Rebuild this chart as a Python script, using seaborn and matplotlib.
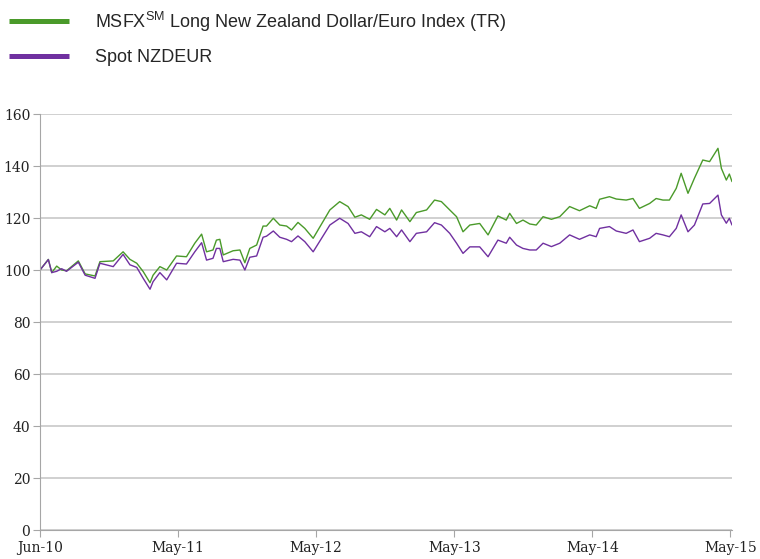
import pandas as pd
import numpy as np
import matplotlib
matplotlib.use("Agg")
import matplotlib.pyplot as plt
import seaborn as sns

# sampled readings of the two index series (base 100 at Jun-10)
dates = [
    "2010-06-01", "2010-06-23", "2010-07-02", "2010-07-15", "2010-07-28", "2010-08-10",
    "2010-09-10", "2010-09-28", "2010-10-24", "2010-11-06", "2010-12-11", "2011-01-06",
    "2011-01-24", "2011-02-11", "2011-02-28", "2011-03-18", "2011-03-26", "2011-04-13",
    "2011-05-01", "2011-05-27", "2011-06-22", "2011-07-14", "2011-08-01", "2011-08-14",
    "2011-08-31", "2011-09-09", "2011-09-18", "2011-09-27", "2011-10-23", "2011-11-10",
    "2011-11-23", "2011-12-06", "2011-12-24", "2012-01-10", "2012-01-19", "2012-02-06",
    "2012-02-23", "2012-03-12", "2012-03-25", "2012-04-11", "2012-04-29", "2012-05-21",
    "2012-07-04", "2012-07-30", "2012-08-21", "2012-09-08", "2012-09-25", "2012-10-17",
    "2012-11-04", "2012-11-26", "2012-12-09", "2012-12-27", "2013-01-09", "2013-01-31",
    "2013-02-17", "2013-03-16", "2013-04-06", "2013-04-24", "2013-05-16", "2013-06-03",
    "2013-06-20", "2013-07-08", "2013-08-03", "2013-08-25", "2013-09-20", "2013-10-12",
    "2013-10-21", "2013-11-08", "2013-11-25", "2013-12-13", "2013-12-30", "2014-01-17",
    "2014-02-08", "2014-03-02", "2014-03-28", "2014-04-23", "2014-05-20", "2014-06-06",
    "2014-06-15", "2014-07-11", "2014-07-29", "2014-08-24", "2014-09-11", "2014-09-28",
    "2014-10-25", "2014-11-11", "2014-11-29", "2014-12-16", "2015-01-03", "2015-01-16",
    "2015-02-03", "2015-02-20", "2015-03-14", "2015-04-01", "2015-04-23", "2015-05-02",
    "2015-05-15", "2015-05-23", "2015-05-30",
]
msfx = [
    100, 104.1, 99, 101.5, 100, 99.7,
    103.5, 98.5, 97.7, 103.2, 103.5, 107,
    104.1, 102.6, 99.4, 95.1, 98, 101.3,
    100, 105.4, 105.1, 110.3, 113.8, 107,
    107.7, 111.5, 111.8, 105.8, 107.4, 107.7,
    102.8, 108.3, 109.6, 116.9, 116.9, 119.9,
    117.3, 116.9, 115.4, 118.3, 116, 112.2,
    123.1, 126.3, 124.4, 120.3, 121.2, 119.5,
    123.3, 121.2, 123.7, 119.2, 123.1, 118.6,
    122.1, 123.1, 126.9, 126.3, 123.1, 120.5,
    114.7, 117.3, 117.9, 113.5, 120.8, 119.2,
    121.8, 117.9, 119.2, 117.7, 117.3, 120.5,
    119.5, 120.5, 124.4, 122.8, 124.7, 123.7,
    127.2, 128.2, 127.3, 126.9, 127.5, 123.7,
    125.6, 127.5, 126.9, 126.9, 131.4, 137.2,
    129.5, 135.3, 142.3, 141.7, 146.8, 139.1,
    134.6, 136.9, 134,
]
spot = [
    100, 104, 99, 99.5, 100.5, 99.5,
    103, 98, 96.8, 102.6, 101.3, 106,
    102, 101, 96.8, 92.6, 95.5, 99,
    96.2, 102.6, 102.3, 107, 110.5, 103.8,
    104.5, 108.3, 108.3, 103.2, 104.1, 103.8,
    100, 104.9, 105.4, 112.6, 113, 115,
    112.6, 111.8, 110.9, 113.1, 110.9, 107,
    117.3, 119.9, 117.9, 114.1, 114.7, 112.8,
    116.7, 114.7, 116, 112.8, 115.4, 110.9,
    114.1, 114.7, 118.2, 117.3, 114.1, 110.3,
    106.4, 108.9, 108.9, 105.1, 111.5, 110.3,
    112.6, 109.6, 108.3, 107.7, 107.7, 110.3,
    109, 110.3, 113.5, 111.8, 113.5, 112.8,
    116, 116.7, 115, 114.1, 115.4, 110.9,
    112.2, 114.1, 113.5, 112.8, 116, 121.2,
    114.7, 117.3, 125.4, 125.6, 128.8, 121.2,
    118, 119.9, 117.3,
]
tick_dates = ["2010-06-01", "2011-05-31", "2012-05-29", "2013-05-28", "2014-05-27", "2015-05-26"]
tick_labels = ["Jun-10", "May-11", "May-12", "May-13", "May-14", "May-15"]
y_ticks = [0, 20, 40, 60, 80, 100, 120, 140, 160]

lbl_msfx = r"MSFX$^{\mathregular{SM}}$ Long New Zealand Dollar/Euro Index (TR)"
lbl_spot = "Spot NZDEUR"

df = pd.concat([
    pd.DataFrame({"date": pd.to_datetime(dates), "value": msfx, "series": lbl_msfx}),
    pd.DataFrame({"date": pd.to_datetime(dates), "value": spot, "series": lbl_spot}),
])

sns.set_style("white")
plt.rcParams["font.family"] = ["Liberation Sans", "DejaVu Sans"]

fig = plt.figure(figsize=(7.6, 5.59), dpi=100)
ax = fig.add_axes([40 / 760, 1 - 530 / 559, 692 / 760, 416 / 559])

pal = {lbl_msfx: "#4A9A2A", lbl_spot: "#7030A0"}
sns.lineplot(data=df, x="date", y="value", hue="series", palette=pal,
             linewidth=1.0, ax=ax, legend=False)

ax.set_ylim(0, 160)
ax.set_xlim(pd.Timestamp("2010-06-01"), pd.Timestamp("2015-05-30"))
ax.set_yticks(y_ticks)
ax.set_xticks(pd.to_datetime(tick_dates))
ax.set_xticklabels(tick_labels)
ax.set_xlabel("")
ax.set_ylabel("")
for lab in ax.get_xticklabels() + ax.get_yticklabels():
    lab.set_fontfamily("DejaVu Serif")
    lab.set_fontsize(10)
    lab.set_color("#222222")

ax.grid(axis="y", color="#c8c8c8", linewidth=1.2)
ax.set_axisbelow(True)
for s in ["top", "right"]:
    ax.spines[s].set_visible(False)
ax.spines["left"].set_color("#a6a6a6")
ax.spines["bottom"].set_color("#a6a6a6")
ax.tick_params(axis="both", length=5, color="#a6a6a6", direction="out",
               bottom=True, left=True, pad=3)
ax.tick_params(axis="y", pad=2)

handles = [plt.Line2D([], [], color=pal[lbl_msfx], linewidth=3.6, solid_capstyle="butt"),
           plt.Line2D([], [], color=pal[lbl_spot], linewidth=3.6, solid_capstyle="butt")]
fig.legend(handles, [lbl_msfx, lbl_spot], loc="upper left",
           bbox_to_anchor=(-0.009, 1.012), frameon=False, fontsize=13,
           handlelength=3.3, handletextpad=1.45, labelspacing=0.85)

fig.savefig("out.png", dpi=100)
